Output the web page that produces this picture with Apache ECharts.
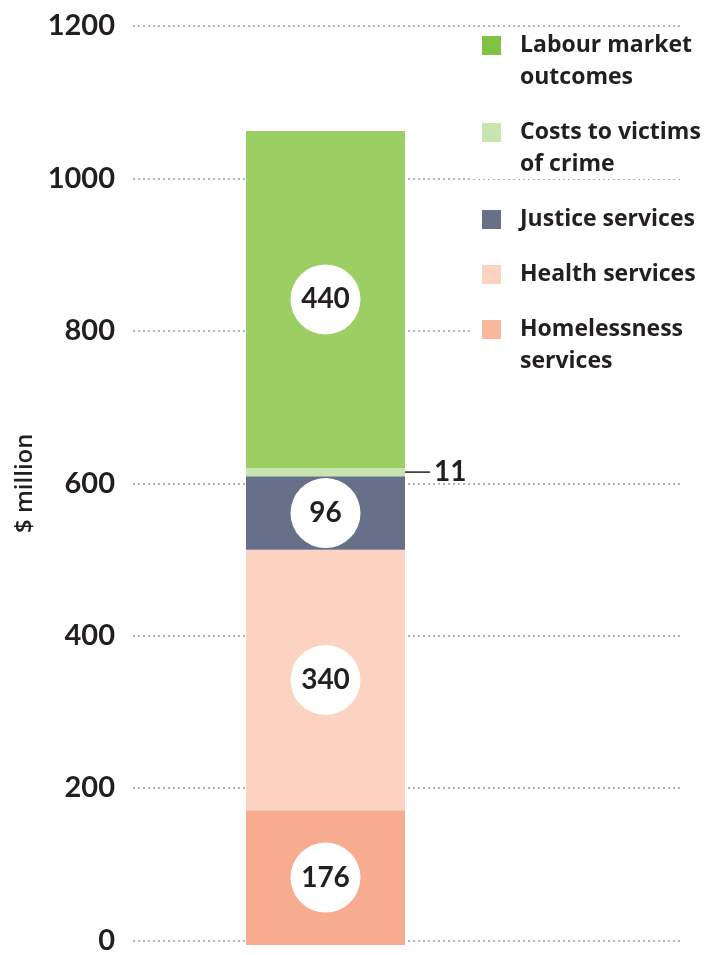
<!DOCTYPE html>
<html>
<head>
<meta charset="utf-8">
<script src="https://cdn.jsdelivr.net/npm/echarts@6/dist/echarts.min.js"></script>
<style>
  html, body { margin: 0; padding: 0; background: #fff; }
  #chart { width: 704px; height: 955px; }
</style>
</head>
<body>
<div id="chart"></div>
<script>
// Cost components, bottom to top of the stacked column ($ million)
const seriesNames = ['Homelessness services', 'Health services', 'Justice services', 'Costs to victims of crime', 'Labour market outcomes'];
const seriesValues = [176, 340, 96, 11, 440];
const seriesColors = ['#F7AC8F', '#FCD3C1', '#687089', '#C9E4B0', '#9BCF63'];
// Legend, top to bottom (wrapped names)
const legendNames = ['Labour market\noutcomes', 'Costs to victims\nof crime', 'Justice services', 'Health services', 'Homelessness\nservices'];
const legendColors = ['#80C141', '#C9E4B0', '#687089', '#FCD3C1', '#F7B89E'];
const yTicks = { min: 0, max: 1200, interval: 200 };
const category = ['Total'];

const FONT = 'Lato, "Noto Sans", sans-serif';
const LEGEND_FONT = '"Open Sans", "Noto Sans", sans-serif';
const INK = '#231F20';

const chart = echarts.init(document.getElementById('chart'));

const circleLabel = {
  show: true,
  position: 'inside',
  formatter: '{c}',
  backgroundColor: '#fff',
  width: 70,
  height: 70,
  lineHeight: 70,
  borderRadius: 35,
  align: 'center',
  color: INK,
  fontFamily: FONT,
  fontWeight: 'bold',
  fontSize: 28
};

const sideLabel = {
  show: true,
  position: 'right',
  distance: 0,
  formatter: p => '{line|}{v|' + p.value + '}',
  rich: {
    line: { width: 25, height: 1.5, backgroundColor: INK },
    v: { color: INK, fontFamily: FONT, fontWeight: 'bold', fontSize: 28, padding: [0, 0, 0, 4] }
  }
};

const series = seriesNames.map((name, i) => ({
  name,
  type: 'bar',
  stack: 'total',
  xAxisIndex: 1,
  yAxisIndex: 1,
  barWidth: 159,
  data: [seriesValues[i]],
  itemStyle: { color: seriesColors[i] },
  label: seriesValues[i] < 50 ? sideLabel : circleLabel,
  emphasis: { disabled: true }
}));

// Legend drawn as squares with wrapped labels; each entry sits on a white panel
const legendGraphics = [];
let ly = 36;
legendNames.forEach((name, i) => {
  const lines = name.split('\n').length;
  legendGraphics.push({
    type: 'rect',
    z: 100,
    shape: { x: 470, y: ly - 2, width: 234, height: lines * 32 - 6 },
    style: { fill: '#fff' }
  });
  legendGraphics.push({
    type: 'rect',
    z: 101,
    shape: { x: 482, y: ly, width: 19, height: 19 },
    style: { fill: legendColors[i] }
  });
  legendGraphics.push({
    type: 'text',
    z: 101,
    x: 520,
    y: ly + 9.5 - 16,
    style: {
      text: name,
      fill: INK,
      font: 'bold 23px ' + LEGEND_FONT,
      lineHeight: 32,
      verticalAlign: 'top'
    }
  });
  ly += lines * 32 + 23;
});

chart.setOption({
  animation: false,
  backgroundColor: '#fff',
  grid: [
    { left: 133, right: 21, top: 26, bottom: 10 },
    { left: 133, width: 385, top: 26, bottom: 10 }
  ],
  xAxis: [
    { gridIndex: 0, type: 'category', data: category, show: false },
    { gridIndex: 1, type: 'category', data: category, show: false }
  ],
  yAxis: [
    {
      gridIndex: 0,
      type: 'value',
      min: yTicks.min, max: yTicks.max, interval: yTicks.interval,
      name: '$ million',
      nameLocation: 'middle',
      nameGap: 86,
      nameTextStyle: { color: INK, fontFamily: LEGEND_FONT, fontWeight: 600, fontSize: 24 },
      axisLine: { show: false },
      axisTick: { show: false },
      axisLabel: { color: INK, fontFamily: FONT, fontWeight: 'bold', fontSize: 29, margin: 18, formatter: v => String(v) },
      splitLine: { lineStyle: { color: '#B5B5B5', type: [2, 3], width: 2 } }
    },
    {
      gridIndex: 1,
      type: 'value',
      min: yTicks.min, max: yTicks.max, interval: yTicks.interval,
      show: false,
      splitLine: { show: false }
    }
  ],
  series,
  graphic: legendGraphics
});
</script>
</body>
</html>
